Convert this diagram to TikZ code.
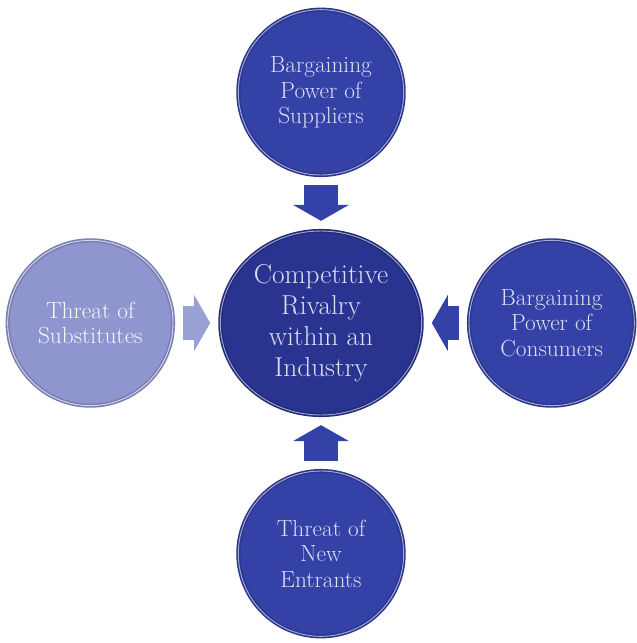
\documentclass[tikz,border=0pt]{standalone}
\usetikzlibrary{shapes.geometric,arrows.meta}

\definecolor{coreblue}{HTML}{28348F}
\definecolor{forceblue}{HTML}{3441A6}
\definecolor{paleblue}{HTML}{8E95CF}
\definecolor{labelwhite}{HTML}{DCDFF2}

\tikzstyle{force} = [circle, minimum size=124pt, inner sep=0pt, align=center, text=labelwhite, fill=forceblue, draw=forceblue!85!black, line width=1.2pt, double=forceblue!45!white, double distance=0.7pt, font=\fontsize{17.5}{19}\selectfont]
\tikzstyle{core} = [ellipse, minimum width=151pt, minimum height=138pt, inner sep=0pt, align=center, text=labelwhite, fill=coreblue, draw=coreblue!85!black, line width=1.2pt, double=coreblue!45!white, double distance=0.7pt, font=\fontsize{20.5}{23.25}\selectfont]
\tikzstyle{push} = [line width=26pt, draw=forceblue, -{Triangle[length=12pt, width=42pt, line width=0pt]}, shorten <=7pt, shorten >=7pt]

\begin{document}
\begin{tikzpicture}[x=0.75pt, y=-0.75pt, node distance=173pt]
    \useasboundingbox (0,0) rectangle (636,643);
	\node (Rivalry) at (321,323) [core] {Competitive\\Rivalry\\within an\\Industry};
	\node (Suppliers) [force, above of=Rivalry] {Bargaining\\Power of\\Suppliers};
	\node (Substitutes) [force, left of=Rivalry, fill=paleblue, draw=paleblue!85!black, double=paleblue!40!white, text=white!92!paleblue] {Threat of\\Substitutes};
	\node (Consumers) [force, right of=Rivalry] {Bargaining\\Power of\\Consumers};
	\node (Entrants) [force, below of=Rivalry] {Threat of\\New\\Entrants};
	\draw [push] (Suppliers) -- (Rivalry);
	\draw [push, draw=paleblue!90!white] (Substitutes) -- (Rivalry);
	\draw [push] (Consumers) -- (Rivalry);
	\draw [push] (Entrants) -- (Rivalry);
\end{tikzpicture}
\end{document}
